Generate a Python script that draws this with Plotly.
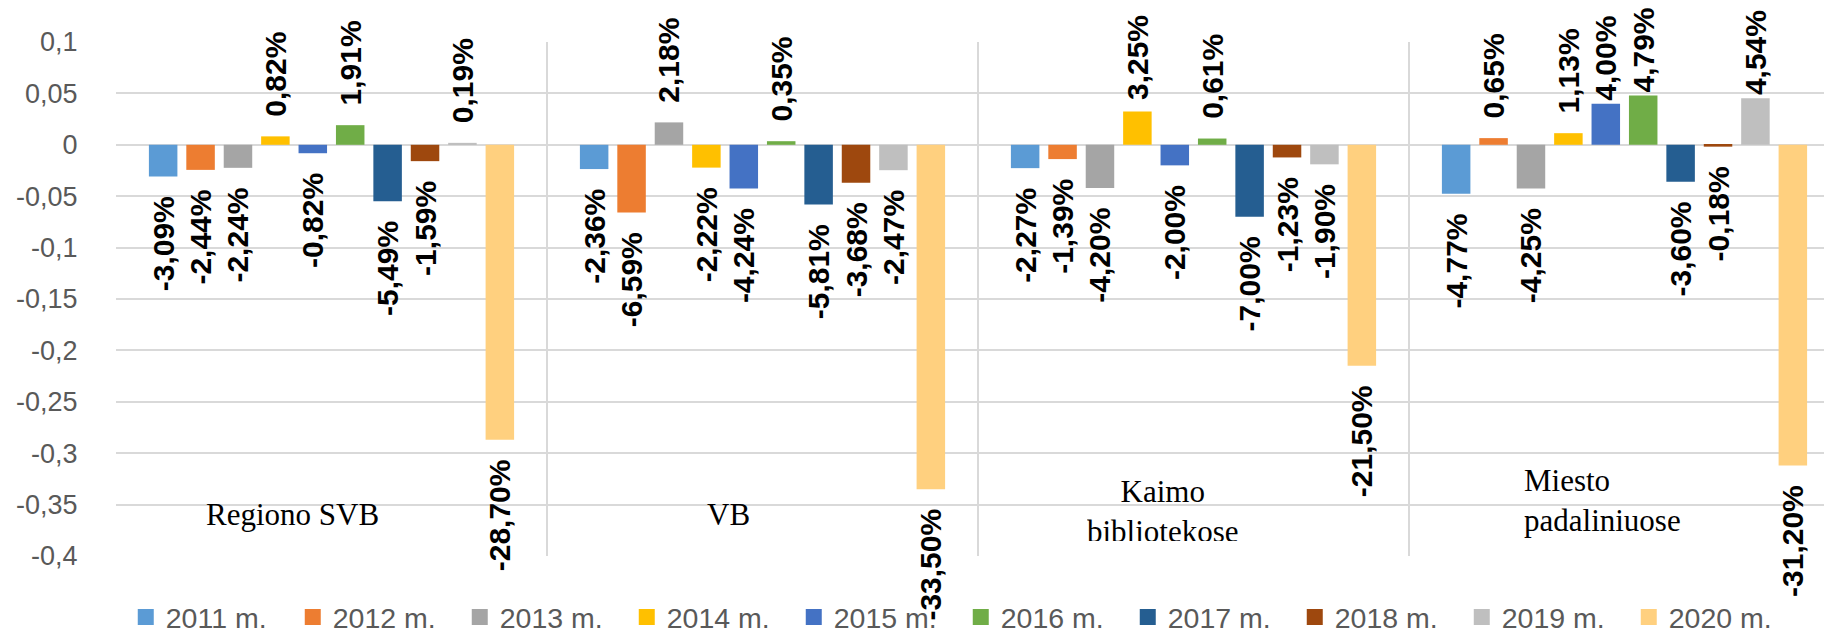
import plotly.graph_objects as go

categories = ["Regiono SVB", "VB", "Kaimo bibliotekose", "Miesto padaliniuose"]
category_labels = ["Regiono SVB", "VB", "Kaimo<br>bibliotekose", "Miesto<br>padaliniuose"]
years = ["2011 m.", "2012 m.", "2013 m.", "2014 m.", "2015 m.",
         "2016 m.", "2017 m.", "2018 m.", "2019 m.", "2020 m."]

# change in percent, per year, over the four categories
v2011 = [-3.09, -2.36, -2.27, -4.77]
v2012 = [-2.44, -6.59, -1.39, 0.65]
v2013 = [-2.24, 2.18, -4.20, -4.25]
v2014 = [0.82, -2.22, 3.25, 1.13]
v2015 = [-0.82, -4.24, -2.00, 4.00]
v2016 = [1.91, 0.35, 0.61, 4.79]
v2017 = [-5.49, -5.81, -7.00, -3.60]
v2018 = [-1.59, -3.68, -1.23, -0.18]
v2019 = [0.19, -2.47, -1.90, 4.54]
v2020 = [-28.70, -33.50, -21.50, -31.20]
series = [v2011, v2012, v2013, v2014, v2015, v2016, v2017, v2018, v2019, v2020]

tick_vals = [0.1, 0.05, 0, -0.05, -0.1, -0.15, -0.2, -0.25, -0.3, -0.35, -0.4]
tick_labels = ["0,1", "0,05", "0", "-0,05", "-0,1", "-0,15", "-0,2", "-0,25", "-0,3", "-0,35", "-0,4"]

colors = ["#5B9BD5", "#ED7D31", "#A5A5A5", "#FFC000", "#4472C4",
          "#70AD47", "#255E91", "#9E480E", "#BFBFBF", "#FFD07F"]

NB = "\u00a0"


def fmt(v):
    s = f"{v:.2f}".replace(".", ",") + "%"
    if v < 0:
        return s + NB * 2
    # tall positive labels are pulled down to stay inside the chart (as in the original)
    pad = 2 if v < 3 else (1 if v < 3.5 else 0)
    return NB * pad + s


fig = go.Figure()
for name, vals, col in zip(years, series, colors):
    fig.add_trace(go.Bar(
        x=categories, y=[v / 100 for v in vals], name=name,
        marker=dict(color=col, line=dict(width=0)),
        text=[fmt(v) for v in vals], textposition="outside", textangle=-90,
        textfont=dict(family="Liberation Sans, Arial", size=30, color="#000000", weight="bold"),
        constraintext="none", cliponaxis=False, showlegend=False,
        legendgroup=name,
    ))
    fig.add_trace(go.Scatter(
        x=[None], y=[None], mode="markers", name=name, legendgroup=name,
        marker=dict(symbol="square", size=16, color=col),
    ))

# white masks over the -0,35 gridline behind the category labels (pixel extents)
PL, PW = 108, 1724
mask_px = [(176, 413), (680, 768), (1039, 1272), (1503, 1710)]
for x0, x1 in mask_px:
    fig.add_shape(type="rect", xref="paper", yref="y",
                  x0=(x0 - PL) / PW, x1=(x1 - PL) / PW, y0=-0.356, y1=-0.344,
                  fillcolor="white", line=dict(width=0), layer="between")

# category labels inside the plot area
lab_xshift = [-39, -34, -31, -22]
lab_y = [-0.3597, -0.3597, -0.3196, -0.3460]
lab_yanchor = ["middle", "middle", "top", "middle"]
lab_height = [None, None, 67, None]
lab_align = ["center", "center", "center", "left"]
for cat, lab, xs, yy, ya, h, al in zip(categories, category_labels, lab_xshift,
                                       lab_y, lab_yanchor, lab_height, lab_align):
    fig.add_annotation(
        x=cat, y=yy, xref="x", yref="y", text=lab, showarrow=False,
        xshift=xs, yanchor=ya, height=h, align=al, valign="top", borderpad=0,
        font=dict(family="Liberation Serif, Times New Roman", size=31, color="#000000"),
    )

fig.update_layout(
    width=1832, height=635,
    margin=dict(l=108, r=0, t=34, b=77),
    paper_bgcolor="white", plot_bgcolor="white",
    barmode="group", bargap=0.132, bargroupgap=0.238,
    showlegend=True,
    legend=dict(orientation="h", x=0.49, xanchor="center", y=-0.12, yanchor="middle",
                font=dict(family="Liberation Sans, Arial", size=28.5, color="#595959"),
                itemwidth=30, entrywidth=122, entrywidthmode="pixels",
                bgcolor="rgba(0,0,0,0)"),
    xaxis=dict(range=[-0.5, 3.5], showticklabels=False, showgrid=True,
               tickson="boundaries", gridcolor="#D9D9D9", gridwidth=1.5,
               zeroline=False, showline=False, ticks=""),
    yaxis=dict(range=[-0.4, 0.1], tickvals=tick_vals, ticktext=tick_labels,
               showgrid=True, gridcolor="#D9D9D9", gridwidth=1.5,
               zeroline=False, showline=False,
               ticks="outside", ticklen=32, tickcolor="rgba(0,0,0,0)",
               tickfont=dict(family="Liberation Sans, Arial", size=27, color="#595959")),
)

fig.write_html("out.html")
